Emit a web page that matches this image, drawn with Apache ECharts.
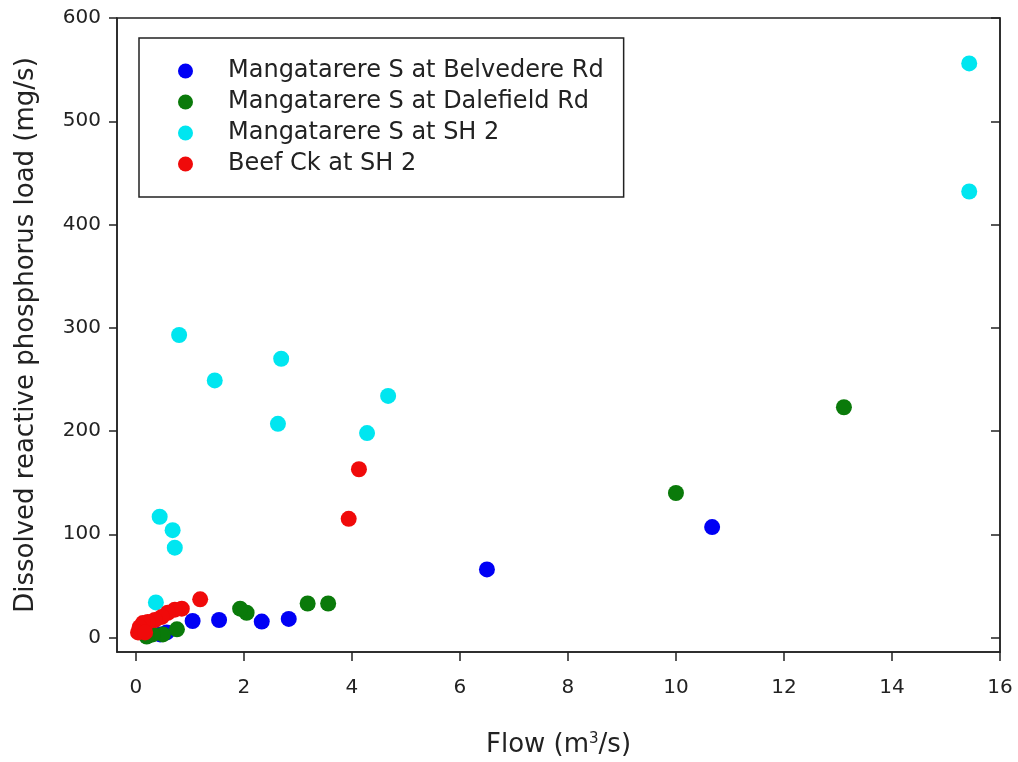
<!DOCTYPE html>
<html>
<head>
<meta charset="utf-8">
<script src="https://cdn.jsdelivr.net/npm/echarts@6/dist/echarts.min.js"></script>
<style>html,body{margin:0;padding:0;background:#fff;}#chart{width:1018px;height:762px;}</style>
</head>
<body>
<div id="chart"></div>
<script>
// Data
var seriesNames = ['Mangatarere S at Belvedere Rd', 'Mangatarere S at Dalefield Rd', 'Mangatarere S at SH 2', 'Beef Ck at SH 2'];

var belvedereX = [10.67, 6.5, 2.83, 2.33, 1.54, 1.05, 0.57, 0.45];
var belvedereY = [107, 66, 18, 15.5, 17, 16, 5, 3];

var dalefieldX = [13.11, 10.0, 3.56, 3.18, 2.05, 1.93, 0.76, 0.5, 0.31, 0.2];
var dalefieldY = [223, 140, 33, 33, 24, 28, 8, 3, 3, 1];

var sh2X = [15.43, 15.43, 0.80, 1.46, 2.69, 2.63, 4.67, 4.28, 0.44, 0.68, 0.72, 0.37];
var sh2Y = [556, 432, 293, 249, 270, 207, 234, 198, 117, 104, 87, 34];

var beefX = [4.13, 3.94, 1.19, 0.85, 0.72, 0.59, 0.48, 0.35, 0.22, 0.13, 0.07, 0.04, 0.17];
var beefY = [163, 115, 37, 28, 27, 24, 20, 17, 15, 14, 10, 5, 5];

var xTicks = [0, 2, 4, 6, 8, 10, 12, 14, 16];
var yTicks = [0, 100, 200, 300, 400, 500, 600];

var colors = ['#0000f5', '#0a7a0a', '#00e6f0', '#f00a0a'];

function pairs(xs, ys) { return xs.map(function (x, i) { return [x, ys[i]]; }); }

var FONT = 'DejaVu Sans';
var LINE = '#222';

var chart = echarts.init(document.getElementById('chart'), null, {renderer: 'canvas'});
chart.setOption({
  backgroundColor: '#fff',
  animation: false,
  grid: {
    left: 117, right: 18, top: 18, bottom: 110,
    show: true, borderColor: LINE, borderWidth: 1.5,
    outerBoundsMode: 'none'
  },
  legend: {
    orient: 'vertical',
    left: 139, top: 38,
    padding: [21, 20, 21, 39],
    itemWidth: 15, itemHeight: 15, itemGap: 7,
    icon: 'circle',
    borderColor: LINE, borderWidth: 1.5,
    textStyle: {fontFamily: FONT, fontSize: 24, color: '#222', lineHeight: 24, padding: [0, 0, 0, 30]},
    data: seriesNames
  },
  xAxis: {
    type: 'value', min: -0.35, max: 16,
    name: 'Flow (m{sup|3}/s)',
    nameLocation: 'middle', nameGap: 80,
    nameTextStyle: {fontFamily: FONT, fontSize: 26, color: '#222',
      rich: {sup: {fontFamily: FONT, fontSize: 15, color: '#222', verticalAlign: 'top', lineHeight: 14}}},
    axisLine: {show: true, onZero: false, lineStyle: {color: LINE, width: 1.5}},
    axisTick: {show: true, inside: false, length: 9, customValues: xTicks, lineStyle: {color: LINE, width: 1.5}},
    axisLabel: {fontFamily: FONT, fontSize: 20, color: '#222', margin: 26, customValues: xTicks},
    splitLine: {show: false}
  },
  yAxis: [{
    type: 'value', min: -14, max: 600, position: 'left',
    name: 'Dissolved reactive phosphorus load (mg/s)',
    nameLocation: 'middle', nameGap: 78, nameRotate: 90,
    nameTextStyle: {fontFamily: FONT, fontSize: 26, color: '#222'},
    axisLine: {show: true, onZero: false, lineStyle: {color: LINE, width: 1.5}},
    axisTick: {show: true, inside: false, length: 8, customValues: yTicks, lineStyle: {color: LINE, width: 1.5}},
    axisLabel: {fontFamily: FONT, fontSize: 20, color: '#222', margin: 16, customValues: yTicks},
    splitLine: {show: false}
  }, {
    type: 'value', min: -14, max: 600, position: 'right',
    axisLine: {show: true, onZero: false, lineStyle: {color: LINE, width: 1.5}},
    axisTick: {show: true, inside: true, length: 9, customValues: yTicks, lineStyle: {color: LINE, width: 1.5}},
    axisLabel: {show: false},
    splitLine: {show: false}
  }],
  series: [
    {name: seriesNames[0], type: 'scatter', symbolSize: 16, itemStyle: {color: colors[0], opacity: 1}, data: pairs(belvedereX, belvedereY)},
    {name: seriesNames[1], type: 'scatter', symbolSize: 16, itemStyle: {color: colors[1], opacity: 1}, data: pairs(dalefieldX, dalefieldY)},
    {name: seriesNames[2], type: 'scatter', symbolSize: 16, itemStyle: {color: colors[2], opacity: 1}, data: pairs(sh2X, sh2Y)},
    {name: seriesNames[3], type: 'scatter', symbolSize: 16, itemStyle: {color: colors[3], opacity: 1}, data: pairs(beefX, beefY)}
  ]
});
</script>
</body>
</html>
